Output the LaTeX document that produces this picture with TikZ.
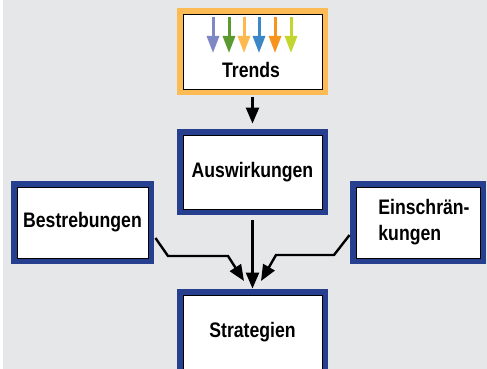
\documentclass[tikz,border=0pt]{standalone}
\usepackage{fontspec}
\newfontfamily\lblfont{Liberation Sans}[FakeStretch=0.84]
\usetikzlibrary{arrows.meta}
\definecolor{bggray}{HTML}{E6E7E8}
\definecolor{frameblue}{HTML}{263F8E}
\definecolor{frameorange}{HTML}{FDBB55}
\definecolor{aLav}{HTML}{7F87C4}
\definecolor{aGreen}{HTML}{5A9A2E}
\definecolor{aLOrange}{HTML}{FDB94E}
\definecolor{aBlue}{HTML}{3C87C8}
\definecolor{aOrange}{HTML}{F7941D}
\definecolor{aYGreen}{HTML}{C2D62E}
\tikzset{
  lbl/.style={font=\lblfont\bfseries\fontsize{21}{26}\selectfont, align=center, inner sep=0pt},
  framebox/.style={draw=black, line width=0.9pt, fill=white, inner sep=0pt,
    preaction={draw=#1, line width=12.5pt}},
  conn/.style={draw=black, line width=2.4pt, line join=miter,
    -{Triangle[width=13pt,length=16pt]}},
  trendarrow/.style={line width=3pt, -{Triangle[width=12pt,length=17pt]}},
}
\begin{document}
\begin{tikzpicture}[x=1pt,y=-1pt]
\useasboundingbox (0,0) rectangle (487,369);
\clip (0,0) rectangle (487,369);
\fill[white] (0,0) rectangle (487,369);
\fill[bggray] (3,0) rectangle (487,369);

% boxes
\node[framebox=frameorange, minimum width=139pt, minimum height=75pt] (trends) at (252.5,51.5) {};
\node[lbl] (trendslabel) at (251,70) {Trends};
\node[framebox=frameblue, lbl, minimum width=139pt, minimum height=74pt] (ausw) at (252.5,172) {Auswirkungen};
\node[framebox=frameblue, lbl, minimum width=131pt, minimum height=71pt] (bestr) at (82.5,222.5) {Bestrebungen};
\node[framebox=frameblue, minimum width=124pt, minimum height=71pt] (einschr) at (418,222.5) {};
\node[lbl, align=left] (einschrlabel) at (424,222) {Einschrän-\\kungen};
\node[framebox=frameblue, minimum width=139pt, minimum height=80pt] (strat) at (252.5,335) {};
\node[lbl] (stratlabel) at (252.5,332) {Strategien};

% trend arrows
\foreach \x/\c [count=\i] in {213/aLav,229/aGreen,244/aLOrange,259/aBlue,275/aOrange,291/aYGreen}{
  \coordinate (ta\i) at (\x,17);
  \coordinate (tb\i) at (\x,53);
  \draw[trendarrow, draw=\c, fill=\c] (ta\i) -- (tb\i);
}

% connectors
\draw[conn, shorten <=8pt, shorten >=11pt] (trends.south) -- (ausw.north);
\draw[conn, shorten <=11pt, shorten >=6pt] (ausw.south) -- (strat.north);
\coordinate (tipL) at (244,281);
\coordinate (tipR) at (261,281);
\draw[conn] ([shift={(7,15.5)}]bestr.east) -- (168,256) -- (228,256) -- (tipL);
\draw[conn] ([shift={(-6,12.5)}]einschr.west) -- (334,255) -- (276,255) -- (tipR);
\end{tikzpicture}
\end{document}
